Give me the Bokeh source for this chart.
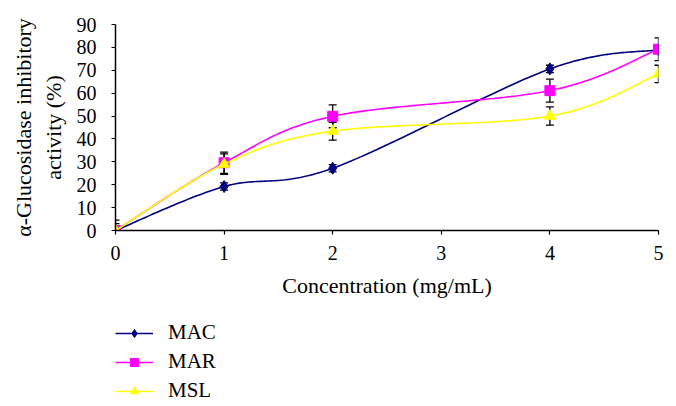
import numpy as np
from bokeh.plotting import figure
from bokeh.layouts import column
from bokeh.models import (Range1d, Legend, LegendItem, Whisker, TeeHead,
                          ColumnDataSource, FixedTicker)
from bokeh.embed import file_html
from bokeh.resources import INLINE

# ---- data ----
conc = [0, 1, 2, 4, 5]
mac = [0, 19.2, 27.2, 70.6, 79.0]
mac_err = [1.5, 1.6, 1.6, 1.6, 1.6]
mar = [0, 29.6, 49.9, 61.1, 79.2]
mar_err = [4.5, 4.6, 5.0, 5.0, 5.0]
msl = [0, 29.0, 43.4, 50.0, 68.4]
msl_err = [3.0, 4.5, 3.9, 4.0, 3.8]
x_ticks = [0, 1, 2, 3, 4, 5]
y_ticks = [0, 10, 20, 30, 40, 50, 60, 70, 80, 90]

FONT = "Liberation Serif"
colors = {"MAC": "#000080", "MAR": "#FF00FF", "MSL": "#FFFF00"}


def smooth(xs, ys, n=40):
    """Catmull-Rom style cubic Bezier smoothing (like spreadsheet smoothed lines)."""
    P = np.column_stack([xs, ys]).astype(float)
    m = len(P)
    out = []
    for i in range(m - 1):
        p0 = P[i - 1] if i > 0 else P[i]
        p1 = P[i]
        p2 = P[i + 1]
        p3 = P[i + 2] if i + 2 < m else P[i + 1]
        c1 = p1 + (p2 - p0) / 6.0
        c2 = p2 - (p3 - p1) / 6.0
        t = np.linspace(0, 1, n)[:, None]
        seg = ((1 - t) ** 3) * p1 + 3 * ((1 - t) ** 2) * t * c1 + 3 * (1 - t) * t ** 2 * c2 + t ** 3 * p2
        out.append(seg if i == 0 else seg[1:])
    pts = np.vstack(out)
    return pts[:, 0], pts[:, 1]


W = 676
p = figure(width=W, height=300, output_backend="svg", toolbar_location=None,
           x_range=Range1d(0, 5), y_range=Range1d(0, 90),
           min_border_left=115, min_border_right=18, min_border_top=24, min_border_bottom=70)
p.outline_line_color = None
p.grid.visible = False

for ax in (p.xaxis[0], p.yaxis[0]):
    ax.axis_line_color = "black"
    ax.axis_line_width = 1.5
    ax.major_tick_line_color = "black"
    ax.major_tick_line_width = 1.2
    ax.major_tick_in = 0
    ax.major_tick_out = 4
    ax.minor_tick_line_color = None
    ax.major_label_text_font = FONT
    ax.major_label_text_font_size = "20px"
    ax.major_label_text_color = "black"

p.xaxis.ticker = FixedTicker(ticks=x_ticks)
p.yaxis.ticker = FixedTicker(ticks=y_ticks)
p.xaxis.major_label_standoff = 11
p.yaxis.major_label_standoff = 15
p.xaxis.axis_label = "Concentration (mg/mL)"
p.xaxis.axis_label_standoff = 10
p.yaxis.axis_label = "α-Glucosidase inhibitory\nactivity (%)"
p.yaxis.axis_label_standoff = 8
for ax in (p.xaxis[0], p.yaxis[0]):
    ax.axis_label_text_font = FONT
    ax.axis_label_text_font_size = "22px"
    ax.axis_label_text_font_style = "normal"
    ax.axis_label_text_color = "black"

series = [("MAC", mac, mac_err, "diamond", 12),
          ("MAR", mar, mar_err, "square", 10),
          ("MSL", msl, msl_err, "triangle", 11)]

# legend panel (separate small figure beneath the chart)
q = figure(width=W, height=106, output_backend="svg", toolbar_location=None,
           x_range=Range1d(0, 1), y_range=Range1d(0, 1),
           x_axis_location=None, y_axis_location=None,
           min_border_left=0, min_border_right=0, min_border_top=0, min_border_bottom=0)
q.outline_line_color = None
q.grid.visible = False

items = []
for name, vals, errs, marker, size in series:
    col = colors[name]
    sx, sy = smooth(conc, vals)
    p.line(sx, sy, line_color=col, line_width=1.6)
    src = ColumnDataSource(dict(x=conc, y=vals,
                                lo=[v - e for v, e in zip(vals, errs)],
                                hi=[v + e for v, e in zip(vals, errs)]))
    wh = Whisker(source=src, base="x", lower="lo", upper="hi",
                 line_color="black", line_width=1.3,
                 upper_head=TeeHead(size=8, line_color="black", line_width=1.3),
                 lower_head=TeeHead(size=8, line_color="black", line_width=1.3))
    p.add_layout(wh)
    p.scatter("x", "y", source=src, marker=marker, size=size,
              fill_color=col, line_color=col)
    # legend proxies (kept outside the visible range of the legend panel)
    lq = q.line([-10, -9], [-10, -10], line_color=col, line_width=1.6)
    mq = q.scatter([-10], [-10], marker=marker, size=size - 2, fill_color=col, line_color=col)
    items.append(LegendItem(label=name, renderers=[lq, mq]))

legend = Legend(items=items, location=(0, 3), orientation="vertical",
                label_text_font=FONT, label_text_font_size="21px",
                label_text_color="black",
                glyph_width=38, glyph_height=20, label_height=20,
                spacing=4, label_standoff=15, padding=0, margin=0,
                border_line_color=None, background_fill_alpha=0)
q.add_layout(legend)

layout = column(p, q, spacing=0)
open("out.html", "w").write(file_html(layout, INLINE))
